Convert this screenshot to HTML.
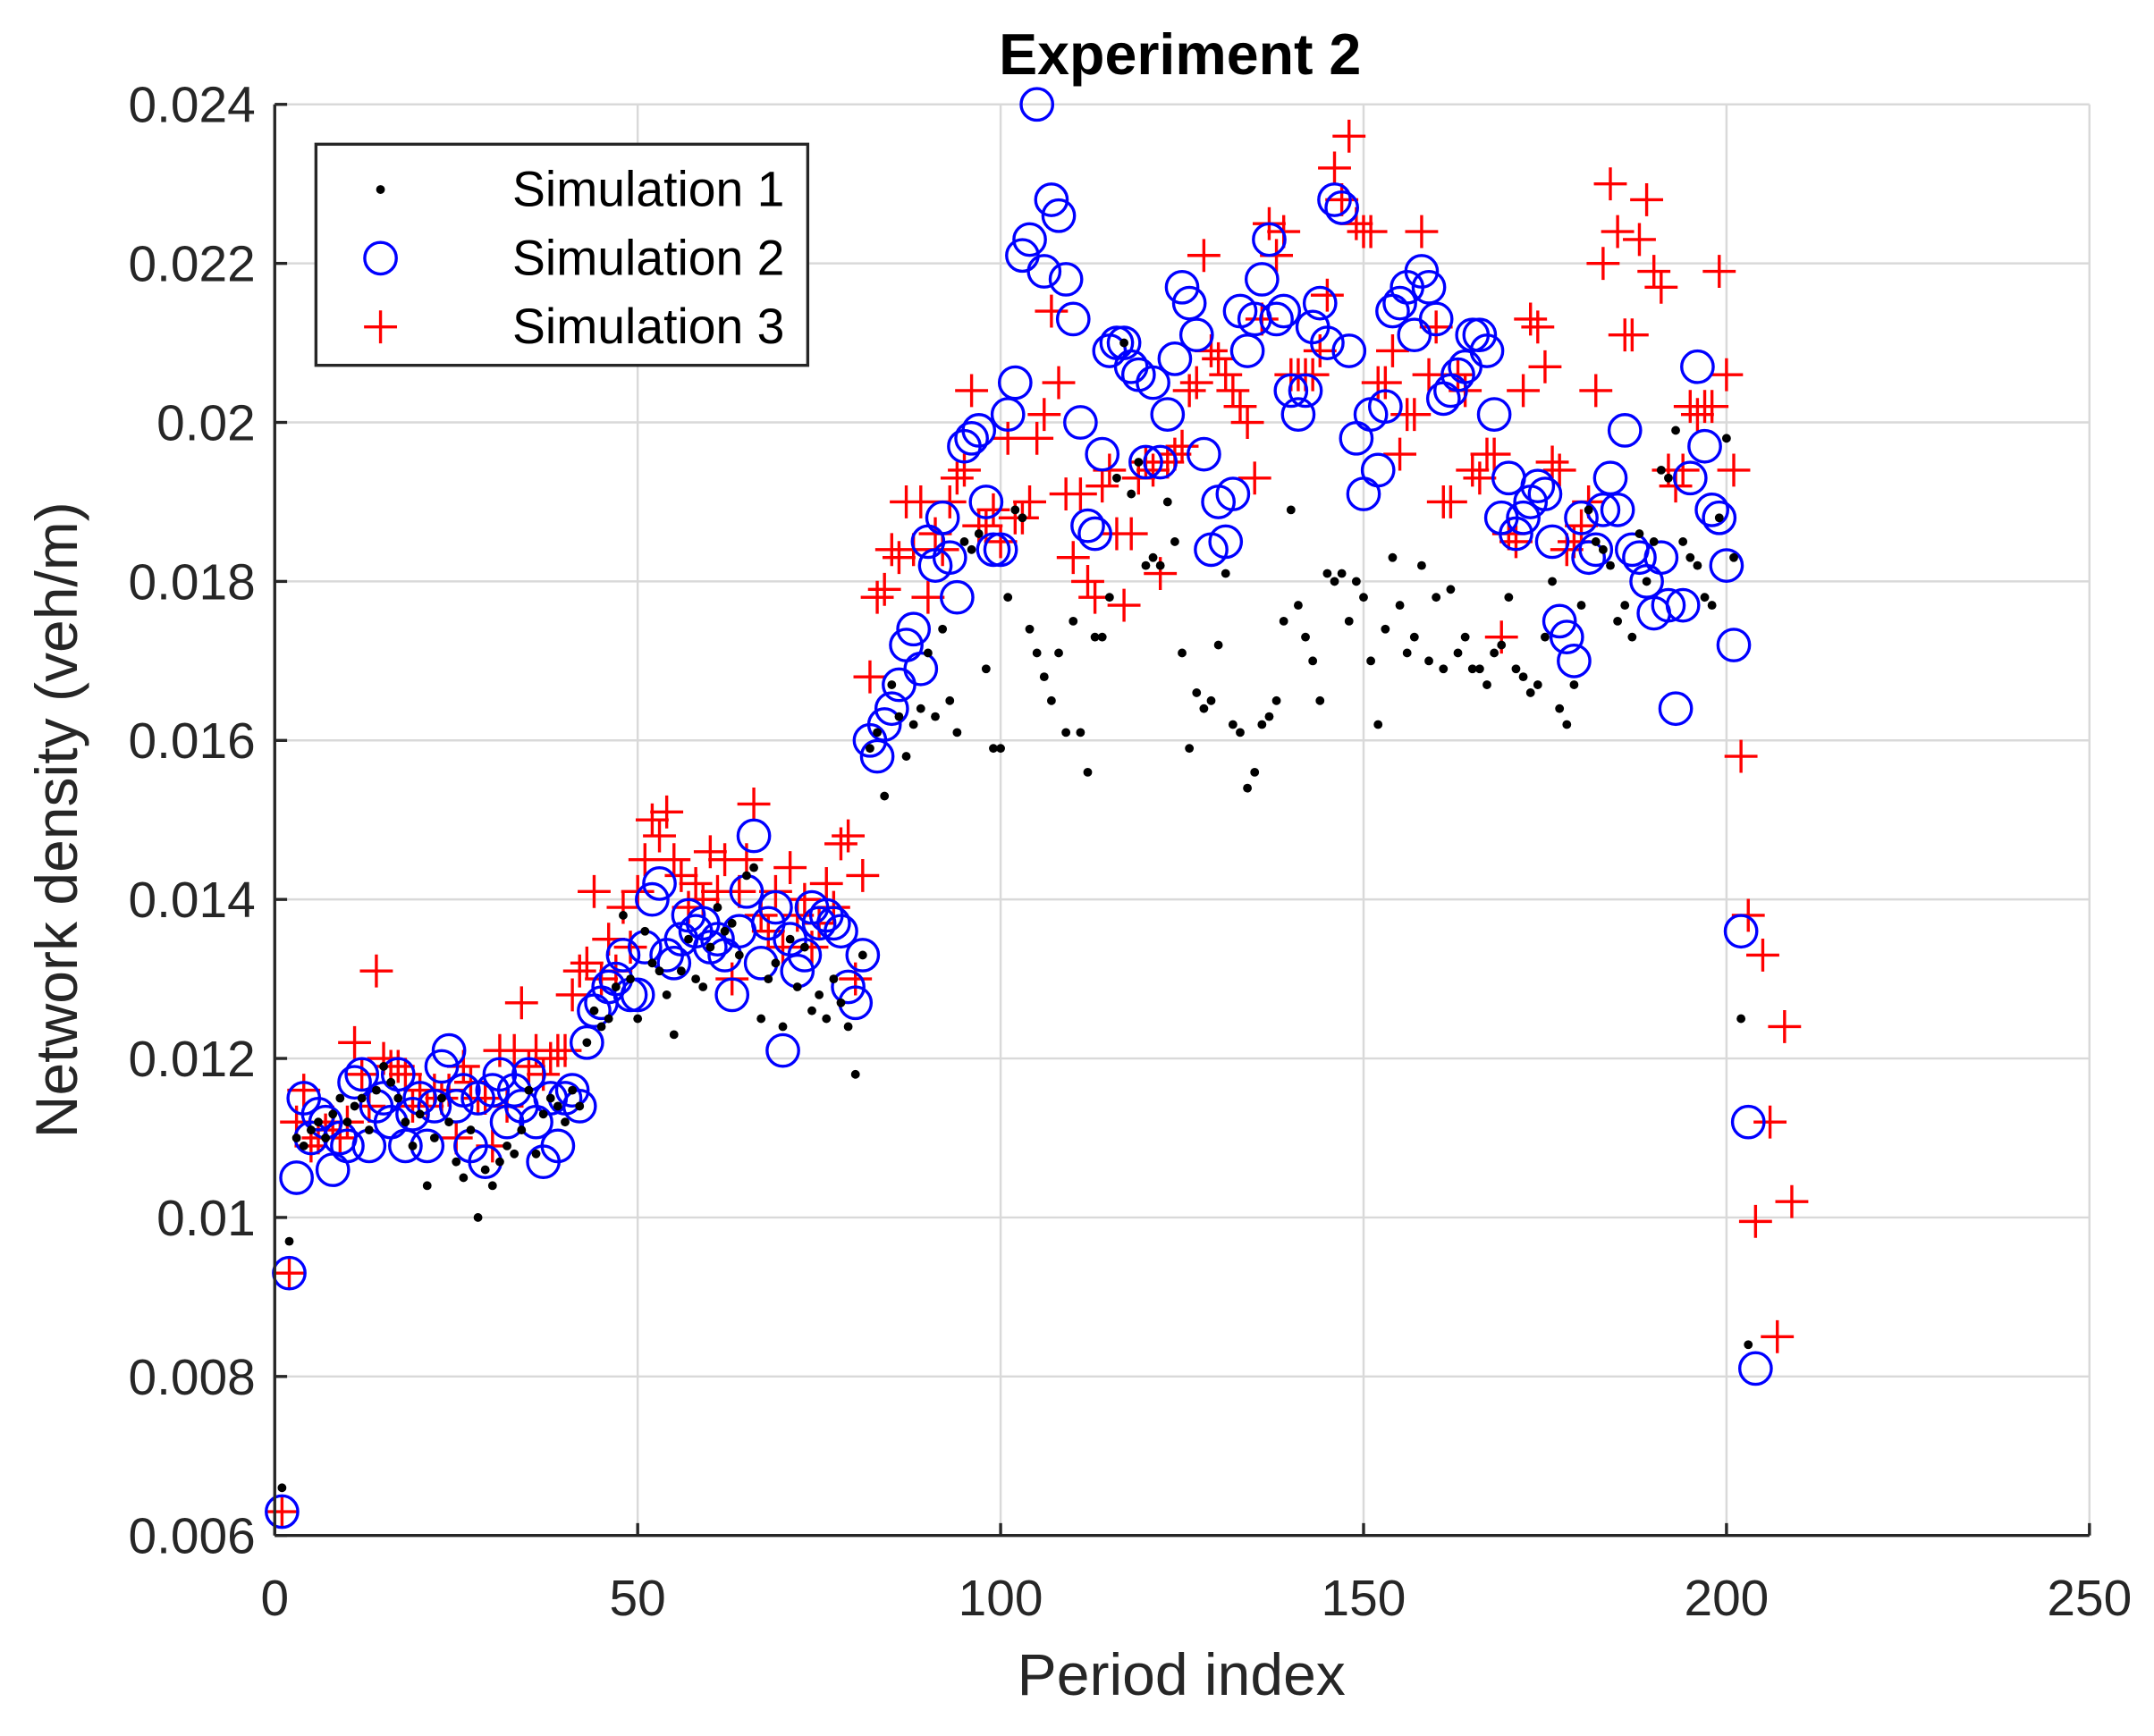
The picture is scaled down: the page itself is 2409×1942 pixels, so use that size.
<!DOCTYPE html>
<html><head><meta charset="utf-8"><style>html,body{margin:0;padding:0;background:#fff}svg{display:block}</style></head>
<body>
<svg id="s" width="2409" height="1942" viewBox="0 0 1568 1264" preserveAspectRatio="none" xmlns="http://www.w3.org/2000/svg" font-family="Liberation Sans, Arial, sans-serif">
<rect width="1568" height="1264" fill="#fff"/>
<g id="grid" stroke="#d9d9d9" stroke-width="1.6"></g>
<g id="data"></g>
<g id="axes" stroke="#262626" stroke-width="2.2" fill="none"></g>
<g id="labels" fill="#262626" font-size="37"></g>
<text x="859" y="54" text-anchor="middle" font-size="42" font-weight="bold" fill="#000">Experiment 2</text>
<text x="860" y="1234" text-anchor="middle" font-size="43" fill="#262626">Period index</text>
<text transform="translate(56,597) rotate(-90)" text-anchor="middle" font-size="43" fill="#262626">Network density (veh/m)</text>
<g>
<rect x="230" y="105" width="358" height="161" fill="#fff" stroke="#262626" stroke-width="2.2"/>
<circle cx="277" cy="138" r="3.2" fill="#000"/>
<circle cx="277" cy="188" r="11.5" fill="none" stroke="#0000ff" stroke-width="2.2"/>
<path d="M265 238h24M277 226v24" stroke="#ff0000" stroke-width="2.2"/>
<text x="373" y="150" font-size="36" fill="#000">Simulation 1</text>
<text x="373" y="200" font-size="36" fill="#000">Simulation 2</text>
<text x="373" y="250" font-size="36" fill="#000">Simulation 3</text>
</g>
</svg>
<script>
var NS="http://www.w3.org/2000/svg";
function el(p,t,a){var e=document.createElementNS(NS,t);for(var k in a)e.setAttribute(k,a[k]);p.appendChild(e);return e;}
var L=200,R=1521,T=76,B=1118;
function X(i){return L+i*(R-L)/250;}
function Y(v){return B-(v-6)*(B-T)/18;}
var g=document.getElementById('grid'),ax=document.getElementById('axes'),lb=document.getElementById('labels');
for(var i=0;i<=250;i+=50){el(g,'line',{x1:X(i),x2:X(i),y1:T,y2:B});
 el(ax,'line',{x1:X(i),x2:X(i),y1:B,y2:B-9});
 var t=el(lb,'text',{x:X(i),y:B+58,'text-anchor':'middle'});t.textContent=i;}
var yl=['0.006','0.008','0.01','0.012','0.014','0.016','0.018','0.02','0.022','0.024'];
for(var j=0;j<10;j++){var v=6+2*j;el(g,'line',{x1:L,x2:R,y1:Y(v),y2:Y(v)});
 el(ax,'line',{x1:L,x2:L+9,y1:Y(v),y2:Y(v)});
 var t=el(lb,'text',{x:L-14,y:Y(v)+13,'text-anchor':'end'});t.textContent=yl[j];}
el(ax,'line',{x1:L,x2:L,y1:T,y2:B});el(ax,'line',{x1:L,x2:R,y1:B,y2:B});
var s1=[6.6,9.7,11.0,10.9,11.1,11.2,11.0,11.3,11.5,11.2,11.4,11.5,11.1,11.6,11.9,11.7,11.5,11.2,10.9,11.3,10.4,11.0,11.5,11.2,10.7,10.5,11.1,10.0,10.6,10.4,10.7,10.9,10.8,11.1,11.6,10.8,11.3,11.5,11.4,11.2,11.6,11.4,12.2,12.6,12.4,12.5,12.9,13.8,13.0,12.5,13.6,13.2,13.1,12.8,12.3,13.1,13.5,13.0,12.9,13.4,13.9,13.6,13.7,13.3,14.3,14.4,12.5,13.0,13.2,12.4,13.5,12.9,13.4,12.6,12.8,12.5,13.0,12.7,12.4,11.8,13.3,15.9,16.1,15.3,16.7,16.3,15.8,16.2,16.4,17.1,16.3,17.4,16.5,16.1,18.5,18.4,18.6,16.9,15.9,15.9,17.8,18.9,18.8,17.4,17.1,16.8,16.5,17.1,16.1,17.5,16.1,15.6,17.3,17.3,17.8,19.3,21.0,19.1,19.5,18.2,18.3,18.2,19.0,18.5,17.1,15.9,16.6,16.4,16.5,17.2,18.1,16.2,16.1,15.4,15.6,16.2,16.3,16.5,17.5,18.9,17.7,17.3,17.0,16.5,18.1,18.0,18.1,17.5,18.0,17.8,17.0,16.2,17.4,18.3,17.7,17.1,17.3,18.2,17.0,17.8,16.9,17.9,17.1,17.3,16.9,16.9,16.7,17.1,17.2,17.8,16.9,16.8,16.6,16.7,17.3,18.0,16.4,16.2,16.7,17.7,18.9,18.5,18.4,18.2,17.5,17.7,17.3,18.6,18.0,18.5,19.4,19.3,19.9,18.5,18.3,18.2,17.8,17.7,18.8,19.8,18.3,12.5,8.4];
var s2=[6.3,9.3,10.5,11.5,11.0,11.3,11.2,10.6,11.0,10.9,11.7,11.8,10.9,11.4,11.5,11.2,11.8,10.9,11.3,11.5,10.9,11.4,11.9,12.1,11.4,11.6,10.9,11.5,10.7,11.6,11.8,11.2,11.6,11.4,11.8,11.2,10.7,11.5,10.9,11.5,11.6,11.4,12.2,12.6,12.7,12.9,13.0,13.3,12.8,12.8,13.4,14.0,14.2,13.3,13.2,13.5,13.8,13.6,13.7,13.4,13.5,13.3,12.8,13.6,14.1,14.8,13.2,13.7,13.9,12.1,13.5,13.1,13.3,13.9,13.7,13.8,13.7,13.6,12.9,12.7,13.3,16.0,15.8,16.2,16.4,16.7,17.2,17.4,16.9,18.5,18.2,18.8,18.3,17.8,19.7,19.8,19.9,19.0,18.4,18.4,20.1,20.5,22.1,22.3,24.0,21.9,22.8,22.6,21.8,21.3,20.0,18.7,18.6,19.6,20.9,21.0,21.0,20.7,20.6,19.5,20.5,19.5,20.1,20.8,21.7,21.5,21.1,19.6,18.4,19.0,18.5,19.1,21.4,20.9,21.3,21.8,22.3,21.3,21.4,20.4,20.1,20.4,21.2,21.5,21.0,22.8,22.7,20.9,19.8,19.1,20.1,19.4,20.2,21.4,21.5,21.7,21.1,21.9,21.7,21.3,20.3,20.4,20.6,20.7,21.1,21.1,20.9,20.1,18.8,19.3,18.6,18.8,19.0,19.2,19.1,18.5,17.5,17.3,17.0,18.8,18.3,18.4,18.9,19.3,18.9,19.9,18.4,18.3,18.0,17.6,18.3,17.7,16.4,17.7,19.3,20.7,19.7,18.9,18.8,18.2,17.2,13.6,11.2,8.1];
var s3=[6.3,9.3,11.2,11.6,10.9,11.0,11.1,11.2,11.0,11.2,12.2,11.8,11.4,13.1,12.0,11.9,11.9,11.8,11.4,11.6,11.4,11.6,11.5,11.6,11.0,11.9,11.7,11.5,11.5,10.9,12.1,11.4,12.1,12.7,11.9,12.1,11.8,12.0,12.1,12.1,12.8,13.1,13.2,14.1,13.0,13.5,13.1,13.9,13.4,14.1,14.5,15.0,14.8,15.1,14.5,14.3,13.9,14.2,14.0,14.6,14.1,14.5,13.0,14.1,14.5,15.2,13.8,13.6,14.1,13.4,14.4,13.8,14.0,13.4,13.7,14.2,13.9,14.7,14.8,13.0,14.3,16.8,17.8,17.9,18.4,18.3,19.0,18.4,19.0,17.8,18.6,18.4,19.0,19.3,19.4,20.4,18.7,18.7,18.9,18.5,19.8,18.8,18.8,19.0,19.8,20.1,21.4,20.5,19.1,18.3,19.1,18.0,17.8,19.2,19.4,18.6,17.7,18.6,19.3,19.5,19.4,18.1,19.5,19.6,19.7,20.4,20.5,22.1,20.9,20.8,20.6,20.4,20.2,20.0,19.3,21.3,22.5,22.1,22.4,20.6,20.6,20.6,20.6,20.9,21.6,23.2,22.8,23.6,22.5,22.4,22.4,20.5,20.5,20.9,19.6,20.1,20.1,22.4,20.6,21.2,19.0,19.0,20.6,20.4,19.4,19.3,19.6,19.6,17.3,18.6,18.5,20.4,21.3,21.2,20.7,19.5,19.4,18.4,18.5,18.7,19.0,20.4,22.0,23.0,22.4,21.1,21.1,22.3,22.8,21.9,21.7,19.4,19.2,19.4,20.2,20.1,20.2,20.2,21.9,20.6,19.4,15.8,13.8,9.95,13.3,11.2,8.5,12.4,10.2];
var d=document.getElementById('data');
var g3=el(d,'g',{stroke:'#ff0000','stroke-width':'2.2'}),pth='';
s3.forEach(function(v,i){var x=X(i+1),y=Y(v);pth+='M'+(x-12)+' '+y+'h24M'+x+' '+(y-12)+'v24';});
el(g3,'path',{d:pth,fill:'none'});
var g2=el(d,'g',{stroke:'#0000ff','stroke-width':'2.2',fill:'none'});
s2.forEach(function(v,i){el(g2,'circle',{cx:X(i+1),cy:Y(v),r:11.5});});
var g1=el(d,'g',{fill:'#000'});
s1.forEach(function(v,i){el(g1,'circle',{cx:X(i+1),cy:Y(v),r:3.2});});
</script>
</body></html>
